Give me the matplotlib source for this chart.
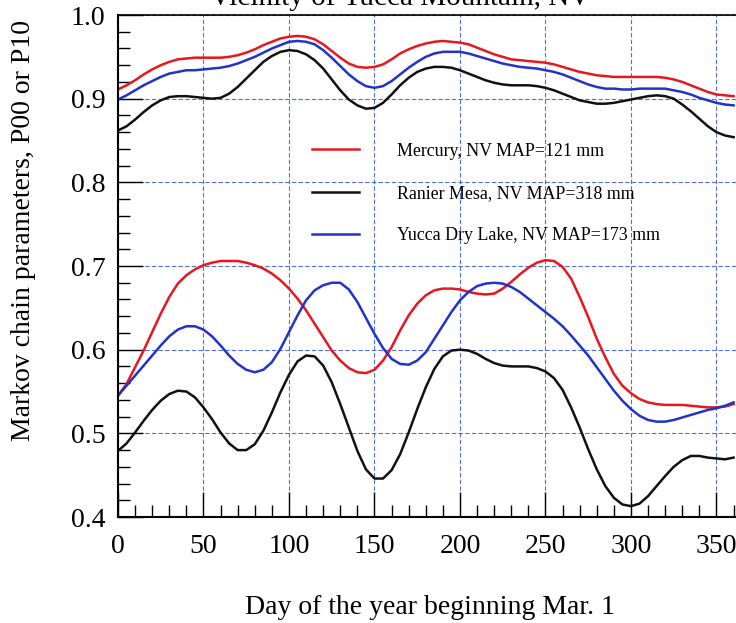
import numpy as np
import matplotlib
matplotlib.use("Agg")
import matplotlib.pyplot as plt
from matplotlib.ticker import MultipleLocator

# --- DATA (every 5 days) ---
DAYS = list(range(0, 365, 5))

# P00 (upper family)
MERCURY_P00 = [0.911, 0.916, 0.922, 0.929, 0.935, 0.940, 0.944, 0.947, 0.948, 0.949,
               0.949, 0.949, 0.949, 0.950, 0.952, 0.955, 0.959, 0.964, 0.968, 0.972,
               0.974, 0.975, 0.974, 0.971, 0.965, 0.957, 0.949, 0.942, 0.938, 0.937,
               0.938, 0.941, 0.947, 0.954, 0.959, 0.963, 0.966, 0.968, 0.969, 0.968,
               0.967, 0.965, 0.961, 0.957, 0.953, 0.950, 0.947, 0.946, 0.945, 0.944,
               0.943, 0.941, 0.938, 0.935, 0.932, 0.930, 0.928, 0.927, 0.926, 0.926,
               0.926, 0.926, 0.926, 0.926, 0.925, 0.923, 0.920, 0.916, 0.912, 0.908,
               0.905, 0.904, 0.903]
RANIER_P00 = [0.862, 0.867, 0.875, 0.884, 0.892, 0.898, 0.902, 0.903, 0.903, 0.902,
              0.901, 0.900, 0.901, 0.906, 0.914, 0.924, 0.934, 0.944, 0.951, 0.956,
              0.958, 0.957, 0.953, 0.946, 0.936, 0.923, 0.910, 0.899, 0.892, 0.888,
              0.889, 0.895, 0.905, 0.916, 0.925, 0.932, 0.936, 0.938, 0.938, 0.937,
              0.934, 0.930, 0.926, 0.922, 0.919, 0.917, 0.916, 0.916, 0.916, 0.915,
              0.913, 0.910, 0.906, 0.902, 0.898, 0.896, 0.894, 0.894, 0.895, 0.897,
              0.899, 0.901, 0.903, 0.904, 0.903, 0.900, 0.893, 0.885, 0.876, 0.867,
              0.860, 0.856, 0.854]
YUCCA_P00 = [0.899, 0.904, 0.910, 0.916, 0.921, 0.926, 0.930, 0.932, 0.934, 0.934,
             0.935, 0.936, 0.937, 0.939, 0.942, 0.946, 0.950, 0.955, 0.960, 0.964,
             0.968, 0.969, 0.968, 0.965, 0.958, 0.949, 0.939, 0.929, 0.921, 0.915,
             0.913, 0.915, 0.921, 0.929, 0.937, 0.944, 0.950, 0.954, 0.956, 0.956,
             0.956, 0.954, 0.951, 0.948, 0.945, 0.942, 0.940, 0.938, 0.937, 0.936,
             0.934, 0.932, 0.929, 0.925, 0.921, 0.917, 0.914, 0.912, 0.912, 0.911,
             0.911, 0.912, 0.912, 0.912, 0.912, 0.910, 0.908, 0.905, 0.901, 0.898,
             0.895, 0.893, 0.892]

# P10 (lower family)
MERCURY_P10 = [0.545, 0.559, 0.579, 0.599, 0.621, 0.643, 0.663, 0.679, 0.689, 0.696,
               0.701, 0.704, 0.706, 0.706, 0.706, 0.704, 0.701, 0.697, 0.691, 0.683,
               0.673, 0.661, 0.647, 0.631, 0.615, 0.599, 0.587, 0.578, 0.573, 0.572,
               0.576, 0.587, 0.603, 0.623, 0.641, 0.655, 0.665, 0.671, 0.673, 0.673,
               0.672, 0.669, 0.667, 0.666, 0.667, 0.673, 0.681, 0.690, 0.698, 0.704,
               0.707, 0.706, 0.699, 0.685, 0.663, 0.639, 0.613, 0.591, 0.571, 0.557,
               0.548, 0.541, 0.537, 0.535, 0.534, 0.534, 0.534, 0.533, 0.532, 0.531,
               0.531, 0.532, 0.535]
RANIER_P10 = [0.479, 0.488, 0.501, 0.515, 0.528, 0.539, 0.547, 0.551, 0.550, 0.543,
              0.531, 0.517, 0.501, 0.488, 0.480, 0.480, 0.487, 0.503, 0.525, 0.549,
              0.570, 0.586, 0.593, 0.592, 0.581, 0.561, 0.535, 0.507, 0.479, 0.457,
              0.446, 0.446, 0.456, 0.475, 0.501, 0.529, 0.555, 0.577, 0.592, 0.599,
              0.600, 0.599, 0.595, 0.589, 0.584, 0.581, 0.580, 0.580, 0.580, 0.578,
              0.574, 0.566, 0.552, 0.531, 0.507, 0.481, 0.457, 0.437, 0.423, 0.415,
              0.413, 0.416, 0.425, 0.437, 0.449, 0.460, 0.468, 0.473, 0.473, 0.471,
              0.470, 0.469, 0.471]
YUCCA_P10 = [0.545, 0.557, 0.569, 0.581, 0.593, 0.605, 0.616, 0.624, 0.628, 0.628,
             0.624, 0.616, 0.605, 0.593, 0.583, 0.576, 0.573, 0.576, 0.585, 0.601,
             0.621, 0.641, 0.659, 0.671, 0.677, 0.680, 0.680, 0.672, 0.657, 0.638,
             0.619, 0.602, 0.589, 0.583, 0.582, 0.587, 0.597, 0.613, 0.629, 0.645,
             0.659, 0.669, 0.676, 0.679, 0.680, 0.679, 0.675, 0.669, 0.661, 0.653,
             0.645, 0.637, 0.628, 0.617, 0.605, 0.593, 0.579, 0.565, 0.551, 0.539,
             0.529, 0.521, 0.516, 0.514, 0.514, 0.516, 0.519, 0.522, 0.525, 0.528,
             0.530, 0.533, 0.537]

LABELS = ["Mercury, NV MAP=121 mm", "Ranier Mesa, NV MAP=318 mm", "Yucca Dry Lake, NV MAP=173 mm"]
COLORS = ["#e8161e", "#111111", "#2233cc"]

plt.rcParams['font.family'] = ['Liberation Serif', 'DejaVu Serif']

fig = plt.figure(figsize=(7.36, 6.23), dpi=100)
ax = fig.add_axes([0.1603, 0.1701, 0.848, 0.8058])

# grid first so the curves sit on top
ax.grid(True, which='major', color='#3355dd', linestyle=(0, (4, 2)), linewidth=0.8, alpha=0.85)

handles = []
for p00, p10, color, label in zip([MERCURY_P00, RANIER_P00, YUCCA_P00],
                                  [MERCURY_P10, RANIER_P10, YUCCA_P10],
                                  COLORS, LABELS):
    h, = ax.plot(DAYS, p00, color=color, lw=1.8, label=label)
    ax.plot(DAYS, p10, color=color, lw=1.8)
    handles.append(h)

ax.set_xlim(0, 365)
ax.set_ylim(0.4, 1.0)
ax.xaxis.set_major_locator(MultipleLocator(50))
ax.xaxis.set_minor_locator(MultipleLocator(10))
ax.yaxis.set_major_locator(MultipleLocator(0.1))
ax.yaxis.set_minor_locator(MultipleLocator(0.02))
ax.yaxis.set_major_formatter(plt.FuncFormatter(lambda v, p: f"{v:.1f}"))

ax.tick_params(which='both', direction='in', top=False, right=False, labelsize=20)
ax.tick_params(which='major', length=18, width=1.0)
ax.tick_params(which='minor', length=8.6, width=1.0)
ax.tick_params(axis='y', pad=9)
ax.tick_params(axis='x', pad=12)

for side in ['left', 'bottom']:
    ax.spines[side].set_linewidth(1.5)
ax.spines['top'].set_linewidth(1.2)

ax.set_xlabel("Day of the year beginning Mar. 1", fontsize=20, labelpad=26)
ax.set_ylabel("Markov chain parameters, P00 or P10", fontsize=20)
ax.yaxis.set_label_coords(-0.132, 0.570)

ax.legend(handles=handles, loc='upper left', bbox_to_anchor=(0.3116, 0.746),
          frameon=False, fontsize=12.9, handlelength=2.6, handletextpad=2.1,
          labelspacing=1.42, borderpad=0, borderaxespad=0)

# title sits mostly above the (cropped) page
fig.text(0.543, 0.992, "Vicinity of Yucca Mountain, NV", fontsize=21,
         ha='center', va='baseline')

fig.savefig("out.png", dpi=100)
